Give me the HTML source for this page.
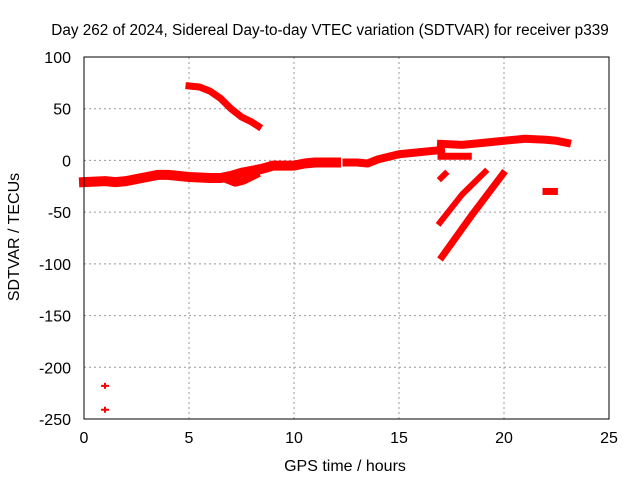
<!DOCTYPE html>
<html><head><meta charset="utf-8"><style>
body{margin:0;background:#fff;font-family:"Liberation Sans",sans-serif}
svg text{font-family:"Liberation Sans",sans-serif;font-size:16px;fill:#000}
</style></head><body>
<svg id="c" width="640" height="480">
<text x="330" y="35" text-anchor="middle" style="font-size:15.3px">Day 262 of 2024, Sidereal Day-to-day VTEC variation (SDTVAR) for receiver p339</text>
<text x="345" y="471" text-anchor="middle">GPS time / hours</text>
<text transform="translate(19,237) rotate(-90)" text-anchor="middle">SDTVAR / TECUs</text>
<g id="grid"></g><g id="marks"></g>
<rect x="84" y="57" width="525" height="362" fill="none" stroke="#000" stroke-width="1"/>
</svg>
<script>
const xTicks=[0,5,10,15,20,25];
const yTicks=[100,50,0,-50,-100,-150,-200,-250];
const mainBand=[[0,-21],[1,-20],[1.5,-21],[2,-20],[2.5,-18],[3,-16],[3.5,-14],[4,-14],[5,-16],[6,-17],[6.5,-17],[7,-15],[7.5,-12],[8,-10],[8.5,-8],[9,-5],[10,-5],[10.5,-3],[11,-2],[12,-2]];
const midBand=[[12.5,-2],[13,-2],[13.5,-3],[14,1],[15,6],[16,8],[17,10]];
const upperBand=[[17,16],[18,15],[19,17],[20,19],[21,21],[22,20],[22.5,19],[23,17]];
const lowerBand=[[17,4],[18.3,4]];
const dipLoop=[[6.7,-18],[7.2,-22],[7.6,-20],[8.2,-14]];
const topArc=[[5,72],[5.5,71],[6,67],[6.5,60],[7,50],[7.5,42],[8,37],[8.3,33]];
const shortSeg=[[17,-17],[17.2,-13]];
const lineA=[[16.95,-60],[18,-33],[19.1,-11]];
const lineB=[[17.05,-93],[18.5,-52],[19.95,-13]];
const blob=[[22,-30],[22.4,-30]];
const outliers=[[1,-218],[1,-241]];
const X=h=>84+h*21, Y=v=>57+(100-v)*362/350;
const ns="http://www.w3.org/2000/svg";
const grid=document.getElementById('grid'), marks=document.getElementById('marks'), svg=document.getElementById('c');
function mk(t,a,p){const e=document.createElementNS(ns,t);for(const k in a)e.setAttribute(k,a[k]);p.appendChild(e);return e;}
xTicks.forEach(t=>{
 if(t>0&&t<25){const g=mk('line',{x1:X(t),x2:X(t),y1:57,y2:419,stroke:'#999','stroke-dasharray':'2,3'},grid);
 
 }
 const l=mk('text',{x:X(t),y:443,'text-anchor':'middle'},svg);l.textContent=t;
 
 
});
yTicks.forEach(t=>{
 if(t<100&&t>-250){const g=mk('line',{x1:84,x2:609,y1:Y(t),y2:Y(t),stroke:'#999','stroke-dasharray':'2,3'},grid);
 
 }
 const l=mk('text',{x:71,y:Y(t)+6,'text-anchor':'end'},svg);l.textContent=t;
 
 
});
function seg(arr,name,w){
 const p=mk('polyline',{points:arr.map(d=>X(d[0])+','+Y(d[1])).join(' '),fill:'none',stroke:'#f00','stroke-width':w,'stroke-linejoin':'round','stroke-linecap':'square'},marks);
 
 
}
seg(mainBand,'series-main-band',10);seg(midBand,'series-mid-band',8);seg(upperBand,'series-upper-band',8);
seg(lowerBand,'series-lower-band',7);seg(dipLoop,'series-dip-loop',7);seg(topArc,'series-top-arc',7);
seg(shortSeg,'series-short-segment',6);seg(lineA,'series-line-a',6);seg(lineB,'series-line-b',7);seg(blob,'series-blob',7);
outliers.forEach(d=>{
 const p=mk('path',{d:`M${X(d[0])-4},${Y(d[1])}h8M${X(d[0])},${Y(d[1])-3}v6`,stroke:'#f00','stroke-width':2},marks);
 
 
});
</script>
</body></html>
